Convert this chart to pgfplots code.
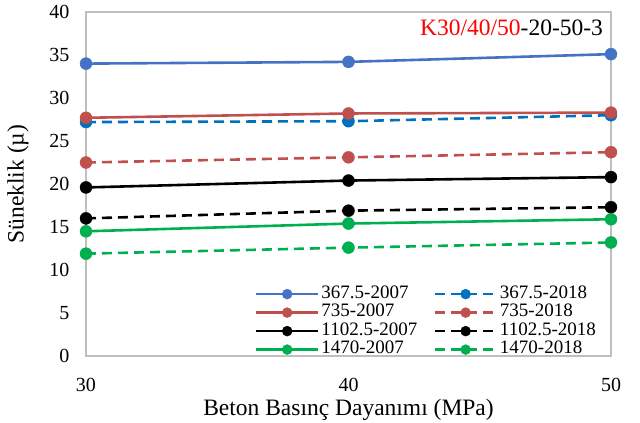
\documentclass[border=0pt]{standalone}
\usepackage{pgfplots}
\pgfplotsset{compat=1.18}
\usepackage{fontspec}
\setmainfont{Liberation Serif}
\definecolor{b7}{RGB}{68,114,196}
\definecolor{b8}{RGB}{0,112,192}
\definecolor{rr}{RGB}{192,80,77}
\definecolor{gg}{RGB}{0,176,80}
\definecolor{ax}{RGB}{191,191,191}
\begin{document}
\begin{tikzpicture}
\useasboundingbox (-86pt,-67pt) rectangle (554pt,356pt);
\begin{axis}[
  at={(0,0)}, anchor=south west,
  scale only axis, width=525pt, height=344pt,
  xmin=30, xmax=50, ymin=0, ymax=40,
  xtick={30,40,50}, ytick={0,5,...,40},
  axis line style={ax, line width=1.2pt},
  major tick length=0pt,
  tick label style={font=\fontsize{20}{22}\selectfont},
  /pgf/number format/assume math mode=true,
  xticklabel style={yshift=-19pt},
  yticklabel style={xshift=-13pt},
  xlabel={Beton Basınç Dayanımı (MPa)},
  ylabel={Süneklik (µ)},
  label style={font=\fontsize{23.5}{26}\selectfont},
  xlabel style={at={(axis description cs:0.5,0)}, anchor=center, yshift=-54pt},
  ylabel style={at={(axis description cs:0,0.5)}, anchor=center, yshift=68pt},
  clip=false,
  every axis plot/.append style={line width=2.6pt, mark=*, mark size=6pt},
  legend columns=2,
  legend style={draw=none, fill=none, font=\fontsize{19}{20}\selectfont,
    at={(rel axis cs:0.981,-0.014)}, anchor=south east,
    nodes={inner ysep=0pt, text height=13pt, text depth=5pt},
    /tikz/every even column/.append style={column sep=14pt},
    row sep=0.5pt},
  legend cell align=left,
  legend image code/.code={\draw[mark repeat=2,mark phase=2,#1, mark size=5pt] plot coordinates {(0pt,0pt) (31pt,0pt) (62pt,0pt)};},
]
\addplot[b7, mark options={solid, fill=b7, line width=0.4pt}] coordinates {(30,34.0) (40,34.2) (50,35.1)};
\addlegendentry{367.5-2007}
\addplot[b8, dash pattern=on 10pt off 6pt, mark options={solid, fill=b8, line width=0.4pt}] coordinates {(30,27.2) (40,27.3) (50,28.0)};
\addlegendentry{367.5-2018}
\addplot[rr, mark options={solid, fill=rr, line width=0.4pt}] coordinates {(30,27.7) (40,28.2) (50,28.3)};
\addlegendentry{735-2007}
\addplot[rr, dash pattern=on 10pt off 6pt, mark options={solid, fill=rr, line width=0.4pt}] coordinates {(30,22.5) (40,23.1) (50,23.7)};
\addlegendentry{735-2018}
\addplot[black, mark options={solid, fill=black, line width=0.4pt}] coordinates {(30,19.6) (40,20.4) (50,20.8)};
\addlegendentry{1102.5-2007}
\addplot[black, dash pattern=on 10pt off 6pt, mark options={solid, fill=black, line width=0.4pt}] coordinates {(30,16.0) (40,16.9) (50,17.3)};
\addlegendentry{1102.5-2018}
\addplot[gg, mark options={solid, fill=gg, line width=0.4pt}] coordinates {(30,14.5) (40,15.4) (50,15.9)};
\addlegendentry{1470-2007}
\addplot[gg, dash pattern=on 10pt off 6pt, mark options={solid, fill=gg, line width=0.4pt}] coordinates {(30,11.9) (40,12.6) (50,13.2)};
\addlegendentry{1470-2018}
\node[anchor=east, font=\fontsize{23.5}{26}\selectfont, inner sep=0pt] at (rel axis cs:0.985,0.953) {\textcolor{red}{K30/40/50}-20-50-3};
\end{axis}
\end{tikzpicture}
\end{document}
